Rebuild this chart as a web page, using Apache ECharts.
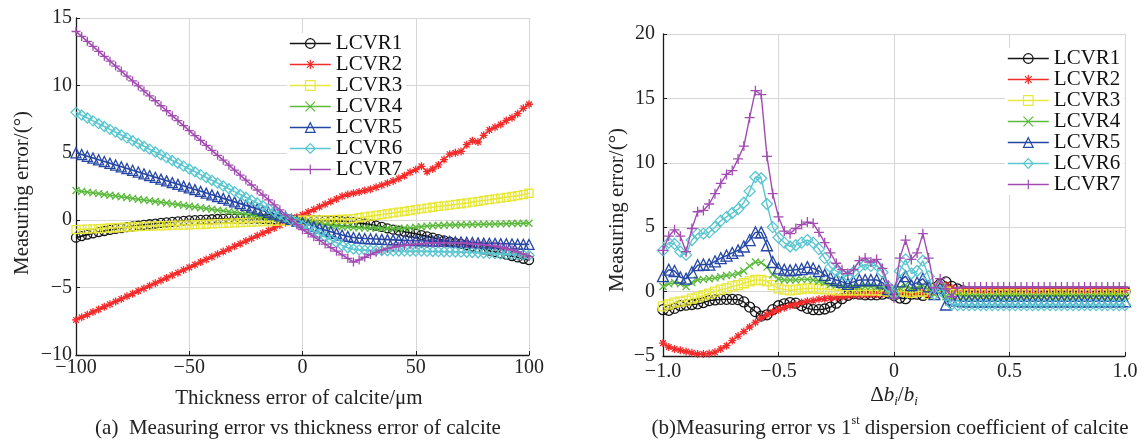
<!DOCTYPE html>
<html><head><meta charset="utf-8">
<script src="https://cdn.jsdelivr.net/npm/echarts@6/dist/echarts.min.js"></script>
<style>html,body{margin:0;padding:0;background:#fff}#c{width:1144px;height:441px}</style>
</head><body><div id="c"></div>
<script>
// ---------- data ----------
const names = ['LCVR1','LCVR2','LCVR3','LCVR4','LCVR5','LCVR6','LCVR7'];
const colors = ['#141414','#f42b2b','#e8e838','#5cba3c','#2446a4','#5ac6cf','#a24cb2'];

// (a) thickness error of calcite (µm)
const xA = [-100,-97.5,-95,-92.5,-90,-87.5,-85,-82.5,-80,-77.5,-75,-72.5,-70,-67.5,-65,-62.5,-60,-57.5,-55,-52.5,
-50,-47.5,-45,-42.5,-40,-37.5,-35,-32.5,-30,-27.5,-25,-22.5,-20,-17.5,-15,-12.5,-10,-7.5,-5,-2.5,
0,2.5,5,7.5,10,12.5,15,17.5,20,22.5,25,27.5,30,32.5,35,37.5,40,42.5,45,47.5,
50,52.5,55,57.5,60,62.5,65,67.5,70,72.5,75,77.5,80,82.5,85,87.5,90,92.5,95,97.5,100];
const a1 = [-1.3,-1.18,-1.07,-0.97,-0.88,-0.8,-0.72,-0.65,-0.58,-0.52,
-0.46,-0.4,-0.35,-0.3,-0.25,-0.2,-0.16,-0.12,-0.08,-0.05,
-0.02,0,0.03,0.05,0.07,0.09,0.1,0.11,0.12,0.12,
0.12,0.12,0.11,0.1,0.09,0.08,0.07,0.06,0.05,0.04,
0.03,0.02,0.01,0,-0.01,-0.03,-0.05,-0.08,-0.11,-0.15,
-0.2,-0.26,-0.32,-0.4,-0.5,-0.6,-0.7,-0.78,-0.86,-0.93,
-1,-1.1,-1.2,-1.3,-1.4,-1.5,-1.6,-1.68,-1.76,-1.86,
-1.96,-2.06,-2.16,-2.26,-2.36,-2.46,-2.56,-2.66,-2.76,-2.86,-2.96];
const a2 = [-7.4,-7.2,-7.01,-6.81,-6.62,-6.42,-6.23,-6.03,-5.84,-5.64,
-5.45,-5.25,-5.06,-4.86,-4.67,-4.47,-4.28,-4.08,-3.89,-3.69,
-3.5,-3.3,-3.11,-2.91,-2.72,-2.52,-2.33,-2.13,-1.94,-1.74,
-1.55,-1.35,-1.16,-0.96,-0.77,-0.57,-0.38,-0.18,0.01,0.21,
0.4,0.6,0.79,0.99,1.18,1.38,1.57,1.77,1.9,2,
2.1,2.2,2.3,2.45,2.6,2.75,2.9,3.1,3.3,3.55,
3.75,4,3.6,3.8,4.1,4.5,4.9,5,5.1,5.6,
5.9,5.8,6.3,6.7,6.9,7.1,7.4,7.6,7.9,8.3,8.6];
const a3 = [-0.7,-0.68,-0.66,-0.64,-0.62,-0.6,-0.58,-0.56,-0.54,-0.52,
-0.5,-0.48,-0.46,-0.44,-0.42,-0.41,-0.4,-0.38,-0.37,-0.36,
-0.35,-0.33,-0.32,-0.3,-0.28,-0.26,-0.24,-0.22,-0.2,-0.18,
-0.16,-0.14,-0.12,-0.11,-0.1,-0.08,-0.07,-0.05,-0.04,-0.02,
0,0.01,0.02,0.03,0.04,0.05,0.06,0.07,0.08,0.12,
0.18,0.24,0.3,0.36,0.42,0.48,0.54,0.6,0.66,0.72,
0.78,0.84,0.9,0.96,1.02,1.07,1.12,1.17,1.22,1.28,
1.34,1.4,1.46,1.52,1.58,1.64,1.7,1.76,1.82,1.9,2];
const a4 = [2.2,2.14,2.08,2.03,1.97,1.91,1.85,1.79,1.74,1.68,
1.62,1.56,1.5,1.45,1.39,1.33,1.27,1.21,1.16,1.1,
1.04,0.98,0.92,0.87,0.81,0.75,0.69,0.63,0.58,0.52,
0.46,0.4,0.34,0.29,0.23,0.17,0.11,0.05,0,-0.06,
-0.12,-0.18,-0.24,-0.29,-0.35,-0.4,-0.44,-0.48,-0.51,-0.54,
-0.56,-0.58,-0.59,-0.6,-0.61,-0.62,-0.62,-0.62,-0.6,-0.57,
-0.52,-0.48,-0.44,-0.41,-0.39,-0.37,-0.36,-0.35,-0.34,-0.33,
-0.32,-0.31,-0.3,-0.29,-0.28,-0.27,-0.26,-0.25,-0.24,-0.23,-0.22];
const a5 = [5,4.87,4.74,4.61,4.48,4.35,4.22,4.09,3.96,3.83,
3.7,3.57,3.44,3.31,3.18,3.05,2.92,2.79,2.66,2.53,
2.4,2.27,2.14,2.01,1.88,1.75,1.62,1.49,1.36,1.23,
1.1,0.97,0.84,0.71,0.58,0.45,0.32,0.19,0.06,-0.07,
-0.2,-0.33,-0.46,-0.59,-0.72,-0.85,-0.98,-1.1,-1.2,-1.28,
-1.33,-1.36,-1.38,-1.4,-1.42,-1.44,-1.46,-1.48,-1.5,-1.51,
-1.52,-1.53,-1.54,-1.55,-1.56,-1.57,-1.58,-1.6,-1.62,-1.64,
-1.66,-1.68,-1.7,-1.71,-1.72,-1.74,-1.75,-1.76,-1.78,-1.79,-1.8];
const a6 = [8,7.79,7.58,7.37,7.16,6.95,6.74,6.53,6.32,6.11,
5.9,5.69,5.48,5.27,5.06,4.85,4.64,4.43,4.22,4.01,
3.8,3.59,3.38,3.17,2.96,2.75,2.54,2.33,2.12,1.91,
1.7,1.49,1.28,1.07,0.86,0.65,0.44,0.23,0.02,-0.19,
-0.4,-0.61,-0.82,-1.03,-1.24,-1.45,-1.66,-1.87,-2.05,-2.15,
-2.2,-2.22,-2.24,-2.25,-2.26,-2.27,-2.28,-2.29,-2.3,-2.3,
-2.3,-2.3,-2.31,-2.32,-2.33,-2.34,-2.35,-2.36,-2.37,-2.38,
-2.4,-2.42,-2.44,-2.46,-2.48,-2.5,-2.52,-2.54,-2.56,-2.58,-2.6];
const a7 = [14,13.63,13.27,12.9,12.53,12.16,11.8,11.43,11.06,10.69,
10.33,9.96,9.59,9.22,8.86,8.49,8.12,7.75,7.39,7.02,
6.65,6.28,5.92,5.55,5.18,4.81,4.45,4.08,3.71,3.34,
2.98,2.61,2.24,1.87,1.51,1.14,0.77,0.4,0.04,-0.33,
-0.7,-0.97,-1.23,-1.5,-1.77,-2.03,-2.3,-2.57,-2.83,-3.1,
-2.95,-2.75,-2.55,-2.38,-2.22,-2.1,-2,-1.93,-1.87,-1.82,
-1.78,-1.75,-1.72,-1.7,-1.68,-1.67,-1.67,-1.68,-1.7,-1.72,
-1.75,-1.78,-1.82,-1.87,-1.93,-2,-2.1,-2.2,-2.35,-2.5,-2.7];

// (b) relative error of 1st dispersion coefficient
const xB = [-1,-0.975,-0.95,-0.925,-0.9,-0.875,-0.85,-0.825,-0.8,-0.775,
-0.75,-0.725,-0.7,-0.675,-0.65,-0.625,-0.6,-0.575,-0.55,-0.525,
-0.5,-0.475,-0.45,-0.425,-0.4,-0.375,-0.35,-0.325,-0.3,-0.275,
-0.25,-0.225,-0.2,-0.175,-0.15,-0.125,-0.1,-0.075,-0.05,-0.025,
0,0.025,0.05,0.075,0.1,0.125,0.15,0.175,0.2,0.225,
0.25,0.275,0.3,0.325,0.35,0.375,0.4,0.425,0.45,0.475,
0.5,0.525,0.55,0.575,0.6,0.625,0.65,0.675,0.7,0.725,
0.75,0.775,0.8,0.825,0.85,0.875,0.9,0.925,0.95,0.975,1];
const b1 = [-1.4,-1.45,-1.3,-1.1,-1.05,-1,-0.95,-0.85,-0.7,-0.65,
-0.6,-0.6,-0.6,-0.62,-0.8,-1.2,-1.55,-1.9,-1.8,-1.4,
-1.1,-0.95,-0.85,-0.9,-1.1,-1.3,-1.4,-1.4,-1.35,-1.2,
-0.9,-0.55,-0.3,-0.15,-0.2,-0.25,-0.25,-0.25,-0.2,-0.1,
-0.3,-0.5,-0.55,-0.2,-0.2,-0.3,-0.1,0.3,0.6,0.75,
0.4,0.2,0.05,0,0,0,0,0,0,0,
0,0,0,0,0,0,0,0,0,0,
0,0,0,0,0,0,0,0,0,0,0];
const b2 = [-4,-4.3,-4.45,-4.55,-4.65,-4.75,-4.85,-4.85,-4.8,-4.7,
-4.45,-4.2,-3.8,-3.45,-3.1,-2.75,-2.4,-2.05,-1.8,-1.6,
-1.4,-1.25,-1.1,-1,-0.85,-0.75,-0.7,-0.6,-0.55,-0.5,
-0.45,-0.4,-0.35,-0.3,-0.3,-0.25,-0.2,-0.2,-0.15,-0.1,
-0.1,-0.1,-0.1,-0.2,-0.1,0,-0.2,0,0.3,0.5,
0.3,0.15,0.1,0.1,0.1,0.1,0.1,0.1,0.1,0.1,
0.1,0.1,0.1,0.1,0.1,0.1,0.1,0.1,0.1,0.1,
0.1,0.1,0.1,0.1,0.1,0.1,0.1,0.1,0.1,0.1,0.1];
const b3 = [-1.15,-1,-0.85,-0.78,-0.7,-0.55,-0.45,-0.3,-0.15,0,
0.15,0.25,0.4,0.5,0.65,0.8,0.9,0.9,0.8,0.5,
0.25,0.15,0.1,0.15,0.2,0.25,0.25,0.2,0.2,0.15,
0.1,0.1,0.1,0.1,0.1,0.1,0.1,0.1,0.05,0,
-0.2,0,0,-0.1,0,0,-0.2,0.2,0.3,0,
-0.2,-0.2,-0.2,-0.2,-0.2,-0.2,-0.2,-0.2,-0.2,-0.2,
-0.2,-0.2,-0.2,-0.2,-0.2,-0.2,-0.2,-0.2,-0.2,-0.2,
-0.2,-0.2,-0.2,-0.2,-0.2,-0.2,-0.2,-0.2,-0.2,-0.2,-0.2];
const b4 = [0.4,0.6,0.7,0.6,0.4,0.7,0.9,0.95,1,1.05,
1.15,1.25,1.3,1.4,1.6,2,2.3,2.25,1.9,1.3,
1,0.9,0.9,0.9,0.95,0.95,0.9,0.8,0.7,0.55,
0.5,0.45,0.4,0.4,0.4,0.4,0.4,0.35,0.3,0.1,
-0.1,0.3,0.5,0.2,0.3,0.5,0.1,-0.2,0.3,-0.4,
-0.35,-0.35,-0.35,-0.35,-0.35,-0.35,-0.35,-0.35,-0.35,-0.35,
-0.35,-0.35,-0.35,-0.35,-0.35,-0.35,-0.35,-0.35,-0.35,-0.35,
-0.35,-0.35,-0.35,-0.35,-0.35,-0.35,-0.35,-0.35,-0.35,-0.35,-0.35];
const b5 = [1.2,1.7,1.6,1.1,1,1.5,2.05,2.1,2.1,2.35,
2.6,2.8,3,3.2,3.5,4,4.6,4.6,3.6,2.3,
1.8,1.7,1.65,1.7,1.75,1.9,1.8,1.6,1.3,1.05,
0.9,0.75,0.6,0.75,0.9,0.9,0.9,0.9,0.7,0.2,
-0.1,0.8,1.2,0.5,0.7,1,0.4,-0.2,0.3,-1,
-0.6,-0.7,-0.75,-0.75,-0.75,-0.75,-0.75,-0.75,-0.75,-0.75,
-0.75,-0.75,-0.75,-0.75,-0.75,-0.75,-0.75,-0.75,-0.75,-0.75,
-0.75,-0.75,-0.75,-0.75,-0.75,-0.75,-0.75,-0.75,-0.75,-0.75,-0.75];
const b6 = [3.2,3.8,3.7,3.1,2.85,4,4.5,4.5,4.6,5,
5.5,5.8,6.1,6.4,6.9,7.8,8.9,8.8,6.8,5,
4.2,3.8,3.5,3.6,3.8,4,3.8,3.3,2.6,1.9,
1.6,1.35,1.2,1.5,1.9,2.1,2,2.05,1.5,0.4,
-0.2,1.6,2.5,1.4,1.6,2.4,1.2,-0.2,0.5,-0.3,
-1,-1.05,-1.05,-1.05,-1.05,-1.05,-1.05,-1.05,-1.05,-1.05,
-1.05,-1.05,-1.05,-1.05,-1.05,-1.05,-1.05,-1.05,-1.05,-1.05,
-1.05,-1.05,-1.05,-1.05,-1.05,-1.05,-1.05,-1.05,-1.05,-1.05,-1.05];
const b7 = [3.2,4.3,4.8,4.3,3.1,4.9,6.2,6.3,6.8,7.6,
8.4,9.1,9.4,10.3,11.3,13.5,15.6,15.3,10.5,7.6,
5.8,4.7,4.5,4.9,5.2,5.4,5.3,4.6,3.8,3,
2.2,1.7,1.4,1.7,2.4,2.6,2.3,2.5,1.8,0.5,
-0.5,2.6,4,2.5,3,4.5,2.6,0.3,1,0.2,
-0.4,0.3,0.35,0.35,0.35,0.35,0.35,0.35,0.35,0.35,
0.35,0.35,0.35,0.35,0.35,0.35,0.35,0.35,0.35,0.35,
0.35,0.35,0.35,0.35,0.35,0.35,0.35,0.35,0.35,0.35,0.35];

const xTicksA = [-100,-50,0,50,100];
const yTicksA = [-10,-5,0,5,10,15];
const xTicksB = [-1,-0.5,0,0.5,1];
const yTicksB = [-5,0,5,10,15,20];

// ---------- styling ----------
const SYM = [
  'path://M10,5A5,5,0,1,1,0,5A5,5,0,1,1,10,5Z',
  'path://M5,0L5,10M0,5L10,5M1.5,1.5L8.5,8.5M8.5,1.5L1.5,8.5',
  'path://M0,0L10,0L10,10L0,10Z',
  'path://M0,0L10,10M10,0L0,10',
  'path://M5,0L10,9L0,9Z',
  'path://M5,0L10,5L5,10L0,5Z',
  'path://M5,0L5,10M0,5L10,5'
];
const sizeA = [9,8,8,7,10,10,9];
const sizeB = [10,8,9,7,11,11,10];
const FONT = '"Liberation Serif", "Times New Roman", serif';
const minus = s => String(s).replace('-', '\u2212');

function mk(k, xs, ys, gi, sizes, lw) {
  return {
    type: 'line', name: names[k], xAxisIndex: gi, yAxisIndex: gi,
    data: xs.map((x, i) => [x, ys[i]]),
    symbol: SYM[k], symbolSize: sizes[k], showSymbol: true, showAllSymbol: true,
    lineStyle: { color: colors[k], width: lw },
    itemStyle: { color: 'none', borderColor: colors[k], borderWidth: 1.3 },
    emphasis: { disabled: true }, clip: false, animation: false, z: 2 + k
  };
}
const A = [a1,a2,a3,a4,a5,a6,a7];
const B = [b1,b2,b3,b4,b5,b6,b7];
const series = [];
A.forEach((ys, k) => series.push(mk(k, xA, ys, 0, sizeA, 1.6)));
B.forEach((ys, k) => series.push(mk(k, xB, ys, 1, sizeB, 1.4)));

function xAxis(gi, ticks, fmt, margin) {
  return {
    type: 'value', gridIndex: gi, min: ticks[0], max: ticks[ticks.length - 1], interval: ticks[1] - ticks[0],
    axisLine: { onZero: false, lineStyle: { color: '#1a1a1a', width: 1.3 } },
    axisTick: { inside: true, length: 4, lineStyle: { color: '#1a1a1a' } },
    splitLine: { show: true, lineStyle: { color: '#d6d6d6', width: 1 } },
    axisLabel: { fontFamily: FONT, fontSize: 20, color: '#222', margin: margin, formatter: fmt, showMinLabel: true, showMaxLabel: true }
  };
}
function yAxis(gi, ticks, margin) {
  return {
    type: 'value', gridIndex: gi, min: ticks[0], max: ticks[ticks.length - 1], interval: ticks[1] - ticks[0],
    axisLine: { onZero: false, lineStyle: { color: '#1a1a1a', width: 1.3 } },
    axisTick: { inside: true, length: 4, lineStyle: { color: '#1a1a1a' } },
    splitLine: { show: true, lineStyle: { color: '#d6d6d6', width: 1 } },
    axisLabel: { fontFamily: FONT, fontSize: 20, color: '#222', margin: margin, formatter: v => minus(v), showMinLabel: true, showMaxLabel: true }
  };
}
function legend(left, top, lh) {
  return {
    data: names, orient: 'vertical', left: left, top: top, itemWidth: 41, itemHeight: 12, itemGap: 0,
    padding: [0, 4, 0, 2], backgroundColor: '#fff', selectedMode: false, z: 1,
    textStyle: { fontFamily: FONT, fontSize: 21, color: '#111', lineHeight: lh },
    itemStyle: { borderWidth: 1.2 }, lineStyle: { width: 1.6 }
  };
}
function txt(x, y, text, rot, extra) {
  return Object.assign({ type: 'text', x: x, y: y, rotation: rot || 0, silent: true,
    style: { text: text, font: '21px ' + FONT, fill: '#222', align: 'center', verticalAlign: 'middle' } }, extra || {});
}

const option = {
  backgroundColor: '#fff',
  animation: false,
  grid: [
    { left: 76, top: 18, width: 453, height: 337 },
    { left: 663, top: 34, width: 462, height: 322 }
  ],
  xAxis: [
    xAxis(0, xTicksA, v => minus(v), 3),
    xAxis(1, xTicksB, v => v === 0 ? '0' : minus(v.toFixed(1)), 6)
  ],
  yAxis: [yAxis(0, yTicksA, 4), yAxis(1, yTicksB, 8)],
  legend: [legend(287, 33, 19.5), legend(1005, 48, 20)],
  series: series,
  graphic: [
    txt(22, 193, 'Measuring error/(°)', Math.PI / 2),
    txt(299, 398, 'Thickness error of calcite/μm'),
    txt(298, 428, '(a)  Measuring error vs thickness error of calcite'),
    txt(617, 210, 'Measuring error/(°)', Math.PI / 2),
    { type: 'text', x: 894, y: 395, silent: true,
      style: { text: '{n|Δ}{it|b}{sub|i}{n|/}{it|b}{sub|i}', align: 'center', verticalAlign: 'middle',
        rich: {
          n: { fontFamily: FONT, fontSize: 21, fill: '#222', lineHeight: 26, verticalAlign: 'middle' },
          it: { fontFamily: FONT, fontSize: 21, fontStyle: 'italic', fill: '#222', lineHeight: 26, verticalAlign: 'middle' },
          sub: { fontFamily: FONT, fontSize: 13, fontStyle: 'italic', fill: '#222', verticalAlign: 'bottom' }
        } } },
    { type: 'text', x: 890, y: 428, silent: true,
      style: { text: '{n|(b)Measuring error vs 1}{sup|st}{n| dispersion coefficient of calcite}', align: 'center', verticalAlign: 'middle',
        rich: {
          n: { fontFamily: FONT, fontSize: 21, fill: '#222', lineHeight: 26, verticalAlign: 'middle' },
          sup: { fontFamily: FONT, fontSize: 12, fill: '#222', verticalAlign: 'top' }
        } } }
  ]
};
const chart = echarts.init(document.getElementById('c'), null, { renderer: 'canvas' });
chart.setOption(option);
</script>
</body></html>
